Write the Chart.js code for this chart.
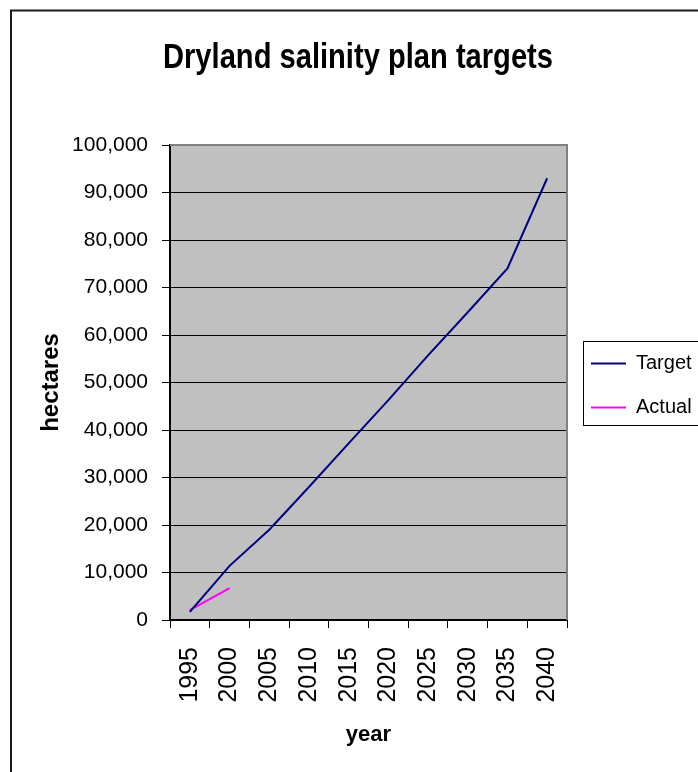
<!DOCTYPE html>
<html>
<head>
<meta charset="utf-8">
<title>Dryland salinity plan targets</title>
<script src="https://cdn.jsdelivr.net/npm/chart.js@4.4.1/dist/chart.umd.min.js"></script>
<style>
  html, body { margin: 0; padding: 0; background: #fff; overflow: hidden; }
  canvas { display: block; }
</style>
</head>
<body>
<canvas id="salinity" width="698" height="772"></canvas>
<script>
// Years on the category axis
const years = ['1995', '2000', '2005', '2010', '2015', '2020', '2025', '2030', '2035', '2040'];
// Hectares of dryland salinity, planned target
const targetHa = [1700, 11400, 19000, 28000, 37200, 46300, 55700, 64800, 74000, 93000];
// Hectares actually recorded so far
const actualHa = [2100, 6700, null, null, null, null, null, null, null, null];
// Value axis range
const yMin = 0;
const yMax = 100000;
const yStep = 10000;

const FONT = "'Liberation Sans', Arial, Helvetica, sans-serif";
Chart.defaults.font.family = FONT;
Chart.defaults.color = '#000';

const TITLE_SQUEEZE = 0.832;

// Spreadsheet-style chart furniture: outer frame, grey plot area, boxed legend
const sheetFrame = {
  id: 'sheetFrame',
  beforeDraw(chart) {
    const { ctx, chartArea: a, width, height } = chart;
    const tb = chart.titleBlock;
    if (tb && !tb.__squeezed) {
      const baseDraw = tb.draw;
      tb.draw = function () {
        const c = this.ctx;
        const cx = (this.left + this.right) / 2;
        c.save();
        c.translate(cx, 0);
        c.scale(TITLE_SQUEEZE, 1);
        c.translate(-cx, 0);
        baseDraw.apply(this, arguments);
        c.restore();
      };
      tb.__squeezed = true;
    }
    ctx.save();
    ctx.strokeStyle = '#1a1a1a';
    ctx.lineWidth = 2;
    ctx.strokeRect(11, 10.5, width + 20, height + 20);
    ctx.fillStyle = '#c0c0c0';
    ctx.fillRect(a.left, a.top, a.right - a.left, a.bottom - a.top);
    ctx.restore();
  },
  beforeDatasetsDraw(chart) {
    const { ctx, chartArea: a } = chart;
    ctx.save();
    ctx.strokeStyle = '#808080';
    ctx.lineWidth = 2;
    ctx.beginPath();
    ctx.moveTo(a.left, a.top);
    ctx.lineTo(a.right, a.top);
    ctx.lineTo(a.right, a.bottom);
    ctx.stroke();
    ctx.restore();
  },
  afterDraw(chart) {
    const lg = chart.legend;
    if (!lg || !lg.legendHitBoxes || !lg.legendHitBoxes.length) return;
    const boxes = lg.legendHitBoxes;
    const first = boxes[0];
    const last = boxes[boxes.length - 1];
    const ctx = chart.ctx;
    ctx.save();
    ctx.strokeStyle = '#000';
    ctx.lineWidth = 1;
    const x = Math.round(first.left - 8) + 0.5;
    const y = Math.round(first.top - 13) + 0.5;
    const h = Math.round(last.top + last.height - first.top + 20);
    ctx.strokeRect(x, y, chart.width, h);
    ctx.restore();
  }
};

new Chart(document.getElementById('salinity'), {
  type: 'line',
  data: {
    labels: years,
    datasets: [
      {
        label: 'Target',
        data: targetHa,
        borderColor: '#000080',
        backgroundColor: '#000080',
        borderWidth: 2,
        pointRadius: 0,
        pointStyle: 'line',
        tension: 0,
        fill: false
      },
      {
        label: 'Actual',
        data: actualHa,
        borderColor: '#ff00ff',
        backgroundColor: '#ff00ff',
        borderWidth: 2,
        pointRadius: 0,
        pointStyle: 'line',
        tension: 0,
        fill: false,
        spanGaps: false
      }
    ]
  },
  options: {
    responsive: false,
    animation: false,
    devicePixelRatio: 1,
    layout: { padding: { left: 18, right: 0, top: 0, bottom: 0 } },
    plugins: {
      title: {
        display: true,
        text: 'Dryland salinity plan targets',
        color: '#000',
        font: { family: FONT, size: 35, weight: 'bold' },
        padding: { top: 37, bottom: 66 }
      },
      legend: {
        display: true,
        position: 'right',
        fullSize: false,
        maxWidth: 131,
        // empty heading strip: nudges the legend column a few pixels down
        title: { display: true, text: '', font: { size: 5 }, padding: 0 },
        labels: {
          usePointStyle: true,
          pointStyleWidth: 35,
          padding: 24,
          color: '#000',
          font: { family: FONT, size: 20 }
        }
      },
      tooltip: { enabled: false }
    },
    scales: {
      x: {
        type: 'category',
        offset: true,
        grid: {
          offset: true,
          drawOnChartArea: false,
          drawTicks: true,
          tickLength: 8,
          color: '#000',
          lineWidth: 1
        },
        border: { display: true, color: '#000', width: 2 },
        ticks: {
          autoSkip: false,
          minRotation: 90,
          maxRotation: 90,
          padding: 19,
          color: '#000',
          font: { family: FONT, size: 25 }
        },
        title: {
          display: true,
          text: 'year',
          color: '#000',
          font: { family: FONT, size: 22, weight: 'bold' },
          padding: { top: 4, bottom: 24 }
        },
        afterFit(scale) { scale.height = 152; }
      },
      y: {
        min: yMin,
        max: yMax,
        grid: {
          color: '#000',
          lineWidth: 1,
          drawTicks: true,
          tickLength: 8
        },
        border: { display: true, color: '#000', width: 2 },
        ticks: {
          stepSize: yStep,
          padding: 14,
          color: '#000',
          font: { family: FONT, size: 21 },
          callback: (v) => Number(v).toLocaleString('en-US')
        },
        title: {
          display: true,
          text: 'hectares',
          color: '#000',
          font: { family: FONT, size: 24, weight: 'bold' },
          padding: { top: 18.6, bottom: 0 }
        },
        afterFit(scale) { scale.width = 152; }
      }
    }
  },
  plugins: [sheetFrame]
});
</script>
</body>
</html>
